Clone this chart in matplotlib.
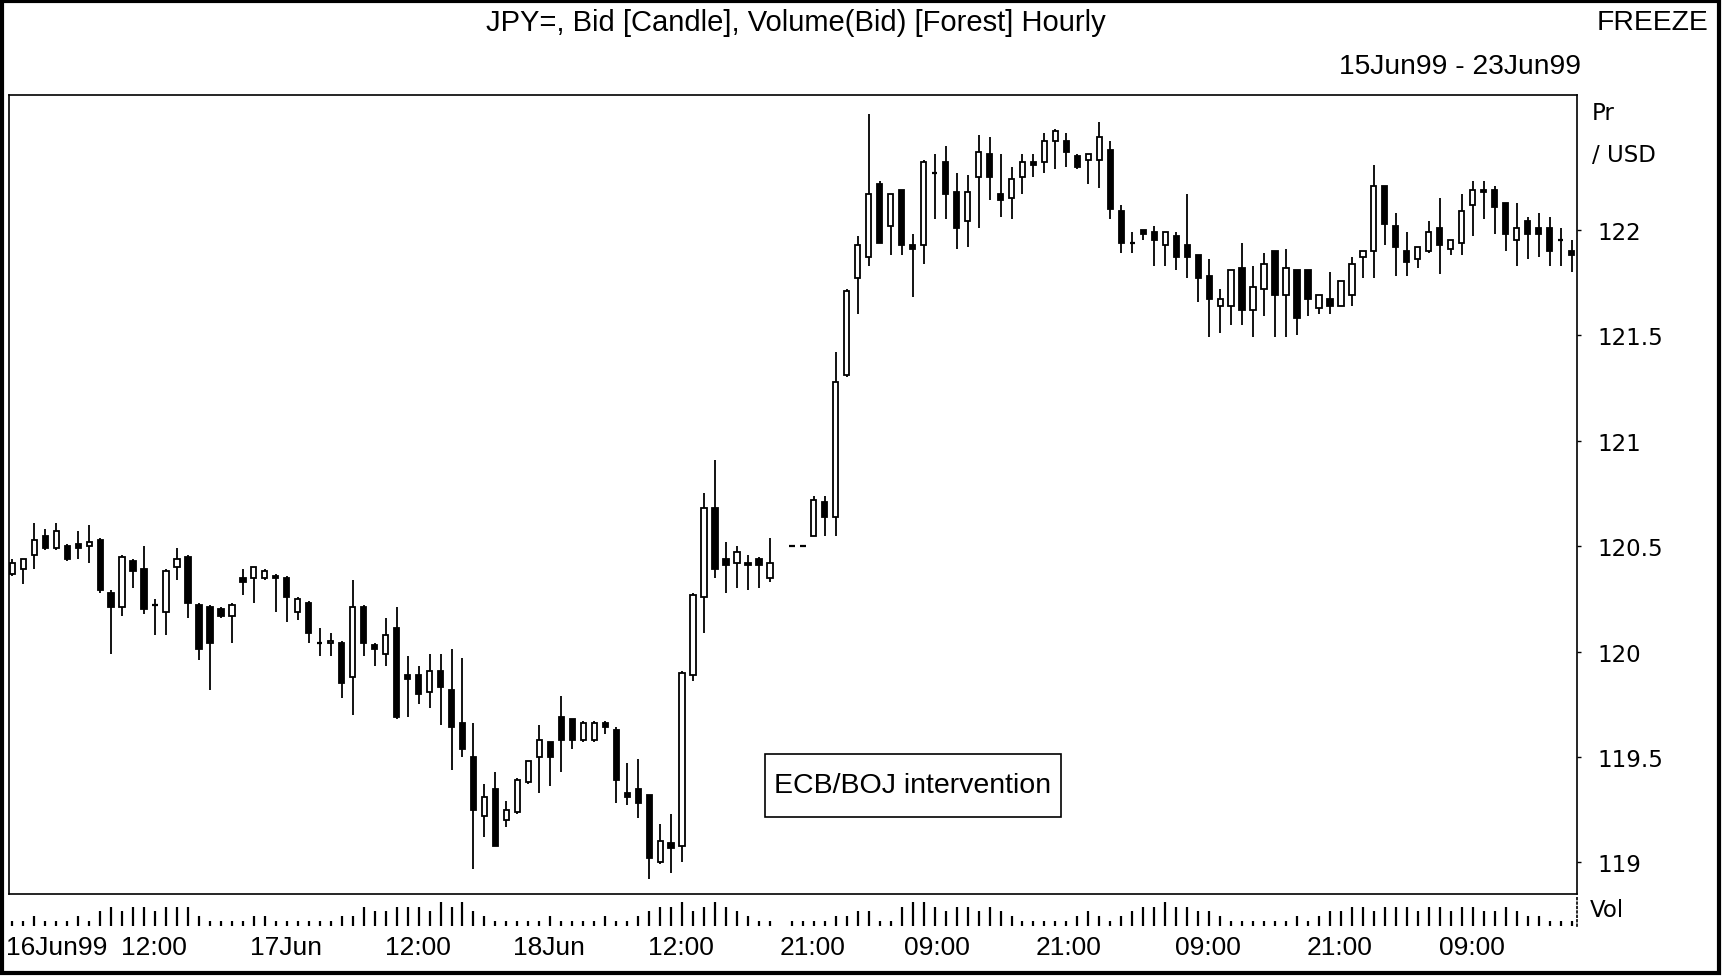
import numpy as np
import matplotlib
matplotlib.use("Agg")
import matplotlib.pyplot as plt
from matplotlib.patches import Rectangle
import matplotlib.transforms as mtransforms

nan = float("nan")

# ---------------- data (hourly bars, one slot per hour, gap = nan) ----------------
opens = [
    120.37, 120.39, 120.46, 120.55, 120.49, 120.50, 120.51, 120.50, 120.53, 120.28,
    120.21, 120.43, 120.39, 120.22, 120.19, 120.40, 120.45, 120.22, 120.21, 120.20,
    120.17, 120.35, 120.35, 120.35, 120.36, 120.35, 120.19, 120.23, 120.04, 120.04,
    120.04, 119.88, 120.21, 120.03, 119.99, 120.11, 119.89, 119.89, 119.81, 119.91,
    119.82, 119.66, 119.50, 119.22, 119.35, 119.20, 119.24, 119.38, 119.50, 119.57,
    119.69, 119.68, 119.58, 119.58, 119.66, 119.63, 119.33, 119.35, 119.32, 119.00,
    119.09, 119.08, 119.89, 120.26, 120.68, 120.44, 120.42, 120.42, 120.44, 120.35,
    nan,    120.50, 120.50, 120.55, 120.71, 120.64, 121.31, 121.77, 121.87, 122.22,
    122.02, 122.19, 121.93, 121.93, 122.27, 122.32, 122.18, 122.04, 122.25, 122.36,
    122.17, 122.15, 122.25, 122.32, 122.32, 122.42, 122.42, 122.35, 122.33, 122.33,
    122.38, 122.09, 121.94, 122.00, 121.99, 121.93, 121.97, 121.93, 121.88, 121.78,
    121.64, 121.64, 121.82, 121.62, 121.72, 121.90, 121.69, 121.81, 121.81, 121.63,
    121.67, 121.64, 121.69, 121.87, 121.90, 122.21, 122.02, 121.90, 121.86, 121.90,
    122.01, 121.91, 121.94, 122.12, 122.19, 122.19, 122.13, 121.95, 122.04, 122.01,
    122.01, 121.95, 121.90,
]
highs = [
    120.44, 120.44, 120.61, 120.58, 120.61, 120.51, 120.57, 120.60, 120.54, 120.29,
    120.46, 120.44, 120.50, 120.25, 120.39, 120.49, 120.46, 120.23, 120.22, 120.21,
    120.23, 120.39, 120.40, 120.39, 120.37, 120.36, 120.26, 120.24, 120.11, 120.09,
    120.05, 120.34, 120.22, 120.04, 120.16, 120.21, 119.98, 119.93, 119.99, 119.99,
    120.01, 119.97, 119.66, 119.37, 119.43, 119.29, 119.40, 119.48, 119.65, 119.57,
    119.79, 119.68, 119.67, 119.67, 119.67, 119.64, 119.47, 119.49, 119.32, 119.18,
    119.23, 119.91, 120.28, 120.75, 120.91, 120.52, 120.50, 120.46, 120.45, 120.54,
    nan,    120.50, 120.50, 120.74, 120.74, 121.42, 121.72, 121.97, 122.55, 122.23,
    122.17, 122.19, 121.98, 122.33, 122.36, 122.40, 122.27, 122.26, 122.45, 122.44,
    122.36, 122.30, 122.36, 122.36, 122.46, 122.48, 122.46, 122.36, 122.36, 122.51,
    122.42, 122.12, 121.99, 122.00, 122.02, 121.99, 121.99, 122.17, 121.88, 121.86,
    121.72, 121.81, 121.94, 121.83, 121.89, 121.90, 121.91, 121.81, 121.81, 121.69,
    121.80, 121.76, 121.87, 121.90, 122.31, 122.21, 122.08, 121.99, 121.92, 122.04,
    122.15, 121.95, 122.17, 122.23, 122.23, 122.21, 122.13, 122.13, 122.06, 122.08,
    122.06, 122.01, 121.95,
]
lows = [
    120.36, 120.32, 120.39, 120.48, 120.48, 120.43, 120.44, 120.42, 120.28, 119.99,
    120.17, 120.30, 120.18, 120.08, 120.08, 120.34, 120.16, 119.96, 119.82, 120.16,
    120.04, 120.27, 120.23, 120.34, 120.19, 120.14, 120.15, 120.04, 119.98, 119.98,
    119.78, 119.70, 119.98, 119.93, 119.93, 119.68, 119.69, 119.75, 119.73, 119.65,
    119.44, 119.50, 118.97, 119.12, 119.08, 119.17, 119.23, 119.37, 119.33, 119.36,
    119.43, 119.54, 119.57, 119.57, 119.61, 119.28, 119.27, 119.21, 118.92, 118.99,
    118.95, 119.00, 119.86, 120.09, 120.35, 120.28, 120.30, 120.29, 120.30, 120.33,
    nan,    120.50, 120.50, 120.55, 120.55, 120.55, 121.30, 121.60, 121.83, 121.94,
    121.88, 121.88, 121.68, 121.84, 122.05, 122.05, 121.91, 121.92, 122.01, 122.14,
    122.06, 122.05, 122.17, 122.25, 122.27, 122.29, 122.30, 122.29, 122.22, 122.20,
    122.05, 121.89, 121.89, 121.95, 121.83, 121.83, 121.81, 121.77, 121.66, 121.49,
    121.51, 121.55, 121.55, 121.49, 121.59, 121.49, 121.49, 121.50, 121.59, 121.60,
    121.60, 121.64, 121.64, 121.77, 121.77, 121.93, 121.78, 121.78, 121.82, 121.89,
    121.79, 121.88, 121.88, 121.97, 122.05, 121.98, 121.90, 121.83, 121.86, 121.87,
    121.83, 121.83, 121.80,
]
closes = [
    120.42, 120.44, 120.53, 120.49, 120.57, 120.44, 120.49, 120.52, 120.29, 120.21,
    120.45, 120.38, 120.20, 120.22, 120.38, 120.44, 120.23, 120.01, 120.04, 120.17,
    120.22, 120.33, 120.40, 120.38, 120.35, 120.26, 120.25, 120.09, 120.04, 120.05,
    119.85, 120.21, 120.04, 120.01, 120.08, 119.69, 119.87, 119.80, 119.91, 119.83,
    119.64, 119.54, 119.25, 119.31, 119.08, 119.25, 119.39, 119.48, 119.58, 119.50,
    119.58, 119.58, 119.66, 119.66, 119.64, 119.39, 119.31, 119.28, 119.02, 119.10,
    119.07, 119.90, 120.27, 120.68, 120.39, 120.41, 120.47, 120.41, 120.41, 120.42,
    nan,    120.50, 120.50, 120.72, 120.64, 121.28, 121.71, 121.93, 122.17, 121.94,
    122.17, 121.93, 121.91, 122.32, 122.27, 122.17, 122.01, 122.18, 122.37, 122.25,
    122.14, 122.24, 122.32, 122.31, 122.42, 122.47, 122.37, 122.30, 122.36, 122.44,
    122.10, 121.94, 121.94, 121.98, 121.95, 121.99, 121.87, 121.87, 121.77, 121.67,
    121.67, 121.81, 121.62, 121.73, 121.84, 121.69, 121.82, 121.58, 121.67, 121.69,
    121.64, 121.76, 121.84, 121.90, 122.21, 122.03, 121.92, 121.85, 121.92, 121.99,
    121.93, 121.95, 122.09, 122.19, 122.18, 122.11, 121.98, 122.01, 121.98, 121.98,
    121.90, 121.95, 121.88,
]
volumes = [
    1, 1, 2, 1, 1, 1, 2, 1,
    3, 4, 3, 4, 4, 3, 4, 4, 4,
    2, 1, 1, 1, 1, 2, 2, 1, 1, 1, 1, 1, 1, 2, 2,
    4, 3, 3, 4, 4, 4, 3, 5, 4, 5, 3, 2,
    1, 1, 1, 1, 1, 2, 1, 1, 1, 1, 2, 1, 1,
    2, 3, 4, 4, 5, 3, 4, 5, 4, 3, 2, 1, 1,
    nan,
    1, 1, 1, 1, 2,
    2, 3, 3, 1, 1,
    4, 5, 5, 4,
    3, 4, 4, 3, 4, 3,
    2, 1, 1,
    1, 1,
    1, 2, 3, 2,
    1, 2, 3,
    4, 4, 5, 4, 4, 3, 3, 2,
    1, 1, 1, 1, 1,
    1, 2, 1, 2, 3,
    3, 4, 4, 3, 4, 4, 4, 3, 4, 4, 3, 4, 4, 3, 3, 4, 3,
    2, 2, 1, 1, 1,
]
x_tick_slots = [0, 12, 24, 36, 48, 60, 72, 84, 96, 108, 120, 132]
x_tick_labels = ["16Jun99", "12:00", "17Jun", "12:00", "18Jun", "12:00",
                 "21:00", "09:00", "21:00", "09:00", "21:00", "09:00"]
y_ticks = [119, 119.5, 120, 120.5, 121, 121.5, 122]
y_tick_labels = ["119", "119.5", "120", "120.5", "121", "121.5", "122"]

title = "JPY=, Bid [Candle], Volume(Bid) [Forest] Hourly"
date_range = "15Jun99 - 23Jun99"
annotation = "ECB/BOJ intervention"

# ---------------- figure ----------------
W, H = 1722, 978
fig = plt.figure(figsize=(W / 100, H / 100), dpi=100)
fig.patch.set_facecolor("white")

def fx(px):
    return px / W

def fy(py):
    return 1 - py / H

NARROW = ["Liberation Sans", "DejaVu Sans"]
WIDE = ["DejaVu Sans"]

ax = fig.add_axes([fx(9), fy(895), (1577 - 9) / W, (895 - 96) / H])
axv = fig.add_axes([fx(9), fy(927), (1577 - 9) / W, (927 - 897) / H], sharex=ax)

x = np.arange(len(opens))
bw = 0.48
lw = 1.3
for i in x:
    o, h, l, c = opens[i], highs[i], lows[i], closes[i]
    if np.isnan(o):
        continue
    if h > l:
        ax.vlines(i, l, h, color="black", lw=lw, zorder=2)
    if c > o:
        ax.add_patch(Rectangle((i - bw / 2, o), bw, c - o, facecolor="white",
                               edgecolor="black", lw=lw, zorder=3))
    elif c < o:
        ax.add_patch(Rectangle((i - bw / 2, c), bw, o - c, facecolor="black",
                               edgecolor="black", lw=lw, zorder=3))
    else:
        ax.hlines(o, i - bw / 2, i + bw / 2, color="black", lw=lw + 0.3, zorder=3)

ax.set_xlim(-0.3, 142.5)
ax.set_ylim(118.85, 122.64)
ax.yaxis.tick_right()
ax.set_yticks(y_ticks)
ax.set_yticklabels(y_tick_labels, fontsize=16.5, family=WIDE)
ax.tick_params(axis="y", length=3, width=1, pad=12, direction="out")
ax.tick_params(axis="x", length=0, labelbottom=False)
for s in ax.spines.values():
    s.set_linewidth(1.2)
    s.set_color("black")

# annotation box
ax.add_patch(Rectangle((0.482, 0.0964), 0.1888, 0.0789, transform=ax.transAxes,
                       facecolor="white", edgecolor="black", lw=1.2, zorder=4))
ax.text(0.5765, 0.136, annotation, transform=ax.transAxes, ha="center", va="center",
        fontsize=20.5, family=NARROW, zorder=5)

# volume forest
vx = [i for i in x if not np.isnan(volumes[i])]
vv = [volumes[i] for i in vx]
axv.vlines(vx, 0, vv, color="black", lw=1.6)
axv.set_ylim(0, 6.2)
axv.set_yticks([])
axv.tick_params(axis="x", length=0, labelbottom=False)
for side in ["top", "bottom", "left"]:
    axv.spines[side].set_visible(False)
axv.spines["right"].set_linestyle(":")
axv.spines["right"].set_linewidth(1.2)

trans = mtransforms.blended_transform_factory(axv.transData, axv.transAxes)
label_offsets = [0, 0.9, 0.9, 0.9, 0.9, 0.9, 0.9, 0.2, 0.2, 0.9, 0.9, 0.9]
for k, (pos, lab) in enumerate(zip(x_tick_slots, x_tick_labels)):
    if k == 0:
        axv.text(pos - 0.57, -0.7, lab, transform=trans, ha="left", va="center",
                 fontsize=19, family=NARROW, clip_on=False)
    else:
        axv.text(pos + label_offsets[k], -0.7, lab, transform=trans, ha="center",
                 va="center", fontsize=19, family=NARROW, clip_on=False)

# header texts
fig.text(fx(796), fy(23), title, ha="center", va="center", fontsize=21, family=NARROW)
fig.text(fx(1708), fy(23), "FREEZE", ha="right", va="center", fontsize=20.3, family=NARROW)
fig.text(fx(1581), fy(67), date_range, ha="right", va="center", fontsize=20.3, family=NARROW)
fig.text(fx(1592), fy(113), "Pr", ha="left", va="center", fontsize=16.5, family=WIDE)
fig.text(fx(1592), fy(155), "/ USD", ha="left", va="center", fontsize=16.5, family=WIDE)
fig.text(fx(1590), fy(911), "Vol", ha="left", va="center", fontsize=16.5, family=WIDE)

# outer frame
fig.add_artist(Rectangle((fx(2), fy(974)), (1719 - 2) / W, (974 - 2) / H,
                         transform=fig.transFigure, fill=False, edgecolor="black", lw=3))

fig.savefig("out.png", dpi=100, facecolor="white")
